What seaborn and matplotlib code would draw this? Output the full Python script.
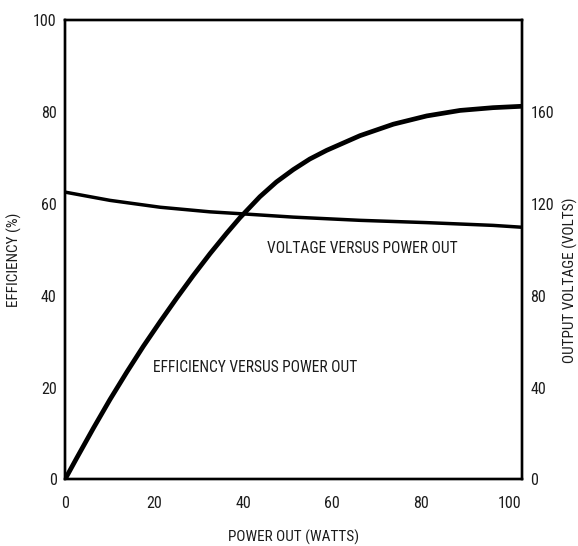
import matplotlib
matplotlib.use("Agg")
import matplotlib.pyplot as plt
import seaborn as sns
import pandas as pd

# Efficiency curve: power output (watts) vs efficiency (%)
power_eff = [0, 2.6, 6.4, 10.1, 13.9, 17.6, 21.4, 25.1, 28.8, 32.6, 36.3, 39.3,
             43.8, 47.5, 51.3, 55.0, 58.8, 66.3, 73.8, 81.3, 88.8, 96.2, 102.6]
efficiency = [0, 4.6, 11.2, 17.4, 23.4, 29.0, 34.4, 39.5, 44.4, 49.2, 53.6, 57.0,
              61.6, 64.8, 67.5, 69.8, 71.7, 74.9, 77.4, 79.2, 80.4, 81.0, 81.3]

# Voltage curve: power output (watts) vs output voltage (volts)
power_volt = [0, 10.1, 21.4, 32.6, 39.3, 51.3, 66.3, 81.3, 96.2, 102.6]
voltage = [125.2, 121.6, 118.6, 116.6, 115.8, 114.3, 112.9, 111.9, 110.7, 109.9]

x_ticks = [0, 20, 40, 60, 80, 100]
eff_ticks = [0, 20, 40, 60, 80, 100]
volt_ticks = [0, 40, 80, 120, 160]

sns.set_style("white")
plt.rcParams["font.family"] = ["Roboto Condensed", "Liberation Sans Narrow",
                               "IBM Plex Sans Condensed", "DejaVu Sans"]
ink = "#1c1c1c"

eff_df = pd.DataFrame({"power": power_eff, "efficiency": efficiency})
volt_df = pd.DataFrame({"power": power_volt, "voltage": voltage})

fig = plt.figure(figsize=(5.78, 5.46), dpi=100)
ax = fig.add_axes([0.1125, 0.122, 0.7905, 0.8405])
ax2 = ax.twinx()

sns.lineplot(data=eff_df, x="power", y="efficiency", ax=ax, color="black",
             linewidth=3.4, solid_joinstyle="round", solid_capstyle="round")
sns.lineplot(data=volt_df, x="power", y="voltage", ax=ax2, color="black",
             linewidth=2.5, solid_joinstyle="round")

ax.set_xlim(0, 102.7)
ax.set_ylim(0, 100)
ax2.set_ylim(0, 200)

ax.set_xticks(x_ticks)
ax.set_yticks(eff_ticks)
ax2.set_yticks(volt_ticks)
ax.set_xticklabels([str(t) for t in x_ticks])
ax.set_yticklabels([str(t) for t in eff_ticks])
ax2.set_yticklabels([str(t) for t in volt_ticks])

ax.tick_params(axis="x", length=0, pad=12, labelsize=11.5, colors=ink)
ax.tick_params(axis="y", length=0, pad=6, labelsize=11.5, colors=ink)
ax2.tick_params(axis="y", length=0, pad=6, labelsize=11.5, colors=ink)

for a in (ax, ax2):
    for s in a.spines.values():
        s.set_linewidth(1.7)
        s.set_color("black")

ax.set_xlabel("")
ax.set_ylabel("")
ax2.set_ylabel("")

fig.text(294 / 578, 1 - 537 / 546, "POWER OUT (WATTS)", fontsize=11,
         ha="center", va="center", color=ink)
fig.text(14 / 578, 1 - 260 / 546, "EFFICIENCY (%)", fontsize=11,
         rotation=90, ha="center", va="center", color=ink)
fig.text(570 / 578, 1 - 280 / 546, "OUTPUT VOLTAGE (VOLTS)", fontsize=11,
         rotation=90, ha="center", va="center", color=ink)

ax.text(45.4, 50.3, "VOLTAGE VERSUS POWER OUT", fontsize=11.2, va="center",
        ha="left", color=ink)
ax.text(19.7, 24.4, "EFFICIENCY VERSUS POWER OUT", fontsize=11.2, va="center",
        ha="left", color=ink)

fig.savefig("out.png", dpi=100)
